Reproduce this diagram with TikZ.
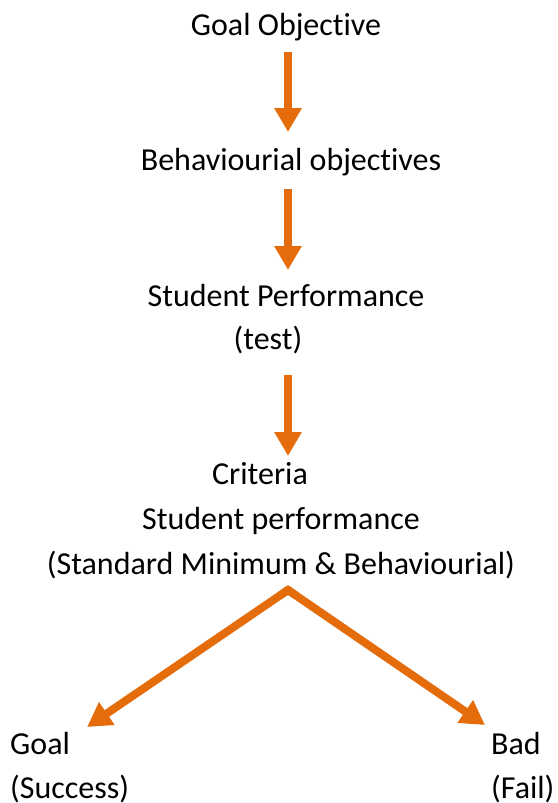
\documentclass[tikz,border=0pt]{standalone}
\usepackage{fontspec}
\setmainfont[Ligatures=NoCommon]{Carlito}
\usetikzlibrary{arrows.meta,calc}
\definecolor{arrorange}{HTML}{E46C0A}
\tikzset{
  lbl/.style={anchor=base, inner sep=0pt, font=\fontsize{32}{36}\selectfont},
  lblw/.style={anchor=base west, inner sep=0pt, font=\fontsize{32}{36}\selectfont},
  arr/.style={draw=arrorange, line width=8pt, -{Triangle[width=26pt,length=24pt]}, fill=arrorange}
}
\begin{document}
\begin{tikzpicture}[x=1pt,y=-1pt]
\useasboundingbox (0,0) rectangle (557,803);
\node[lbl] (goalobj) at (286,35) {Goal Objective};
\node[lbl] (behav) at (291,170) {Behaviourial objectives};
\node[lbl] (stperf) at (286,306) {Student Performance};
\node[lbl] (test) at (268,349) {(test)};
\node[lbl] (crit) at (260,484) {Criteria};
\node[lbl] (stperf2) at (281,529) {Student performance};
\node[lbl] (std) at (281,574) {(Standard Minimum \& Behaviourial)};
\node[lblw] (goal) at (10,754) {Goal};
\node[lblw] (succ) at (10,798) {(Success)};
\node[lblw] (bad) at (491,754) {Bad};
\node[lblw] (fail) at (491,798) {(Fail)};
\coordinate (a1s) at (288,52);
\coordinate (a1e) at (288,132);
\coordinate (a2s) at (288,189);
\coordinate (a2e) at (288,270);
\coordinate (a3s) at (288,375);
\coordinate (a3e) at (288,456);
\coordinate (apex) at (288,590);
\coordinate (ltip) at (87,727);
\coordinate (rtip) at (485,725);
\draw[arr] (a1s) -- (a1e);
\draw[arr] (a2s) -- (a2e);
\draw[arr] (a3s) -- (a3e);
\draw[arr] (apex) -- (ltip);
\draw[arr] (apex) -- (rtip);
\draw[draw=arrorange, line width=8pt, line join=miter] ($(apex)!10pt!(ltip)$) -- (apex) -- ($(apex)!10pt!(rtip)$);
\end{tikzpicture}
\end{document}
